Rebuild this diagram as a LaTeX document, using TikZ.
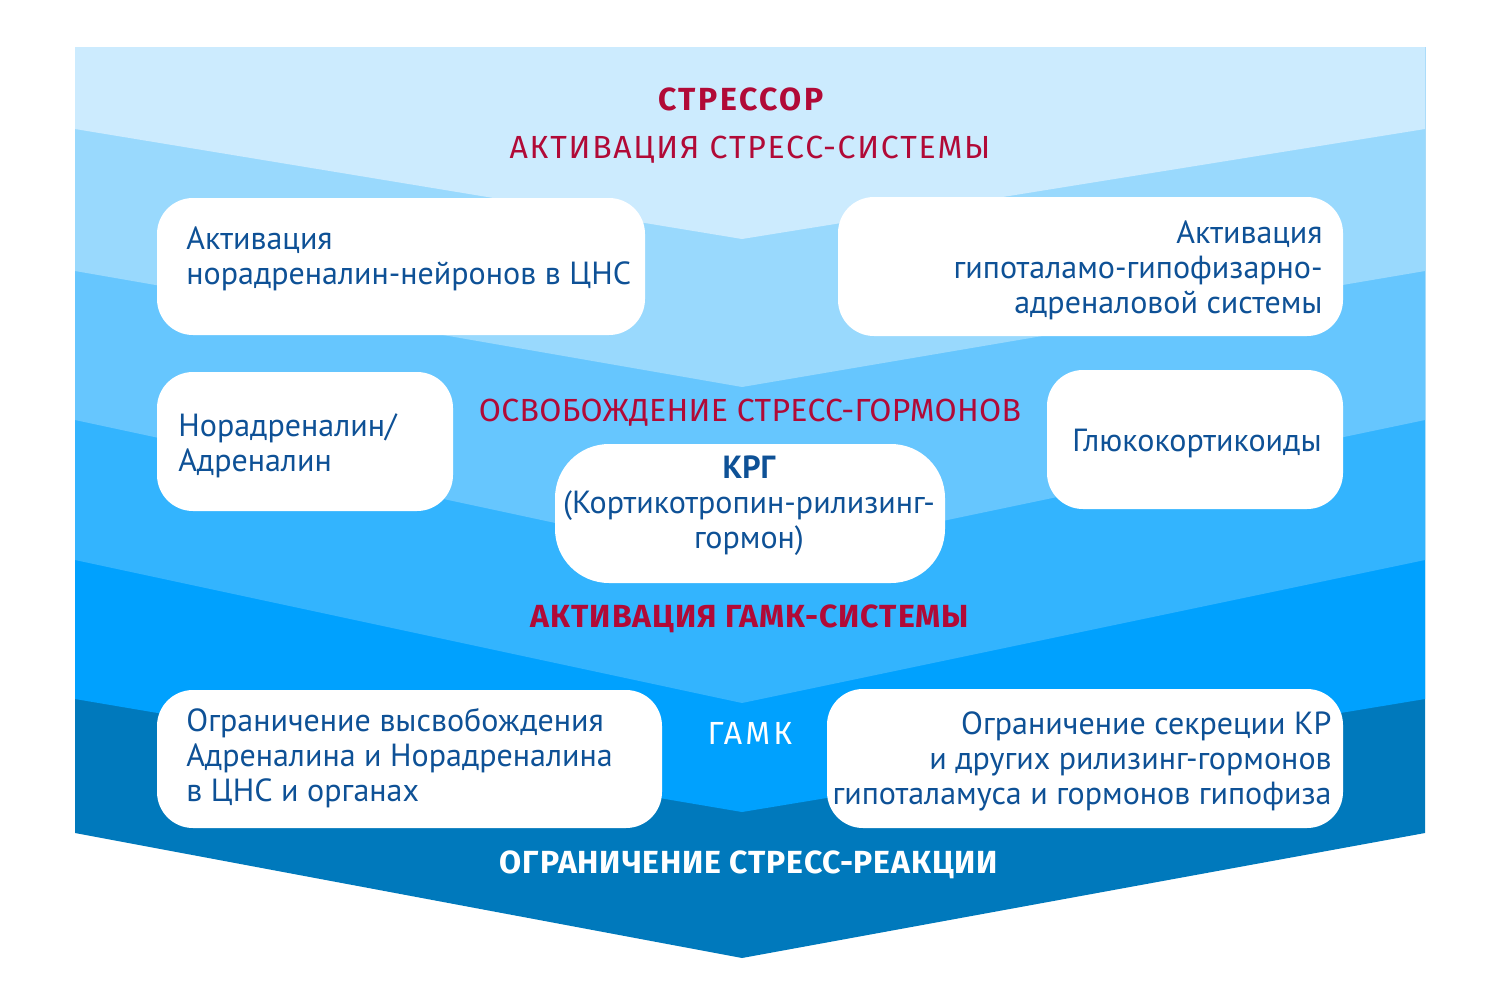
\documentclass[tikz,border=0pt]{standalone}
\usepackage{fontspec}
\setmainfont{Fira Sans}
\newfontfamily\boxfont{PT Sans}
\usetikzlibrary{fit}
\definecolor{lvlA}{HTML}{CCEBFE}
\definecolor{lvlB}{HTML}{99D9FD}
\definecolor{lvlC}{HTML}{66C6FE}
\definecolor{lvlD}{HTML}{33B4FE}
\definecolor{lvlE}{HTML}{00A1FE}
\definecolor{lvlF}{HTML}{0079BC}
\definecolor{txtblue}{HTML}{0E5196}
\definecolor{txtred}{HTML}{B10A37}
\newcommand\spc[1]{\fontsize{16}{18}\selectfont\addfontfeature{LetterSpace=#1}}
\tikzstyle{box}=[fill=white,rounded corners=18pt,inner sep=0pt]
\tikzstyle{txt}=[text=txtblue,font=\boxfont\fontsize{16}{17.5}\selectfont,inner sep=0pt]
\tikzstyle{head}=[text=txtred,inner sep=0pt,anchor=base]

\begin{document}
\begin{tikzpicture}[x=0.5pt,y=-0.5pt]
  \useasboundingbox (0,0) rectangle (1500,991);
  % chevrons, darkest first
  \foreach \c/\ys/\yv in {lvlF/833/958, lvlE/699/812, lvlD/560/703,
                          lvlC/420/563, lvlB/271/387, lvlA/129/239}
    \fill[\c] (75,47) -- (1425,47) -- (1425,\ys) -- (742,\yv) -- (75,\ys) -- cycle;

  \foreach \n/\xa/\ya/\xb/\yb in {norn/157/198/645/335, hpa/838/197/1343/336,
      nadr/157/372/453/511, gluc/1047/370/1343/509,
      lgaba/157/690/662/828, rgaba/827/689/1343/828}
    \node[box,fit={(\xa,\ya) (\xb,\yb)}] (\n) {};
  \node[box,rounded corners=27pt,fit={(555,444) (945,583)}] (crh) {};

  \node[head,font=\bfseries\spc{7.8}] (stressor) at (741,110) {СТРЕССОР};
  \node[head,font=\spc{5.5}] (act) at (750,158) {АКТИВАЦИЯ СТРЕСС-СИСТЕМЫ};
  \node[head,font=\spc{1}] (release) at (750,421) {ОСВОБОЖДЕНИЕ СТРЕСС-ГОРМОНОВ};
  \node[head,font=\bfseries\spc{3}] (gabaact) at (750,627) {АКТИВАЦИЯ ГАМК-СИСТЕМЫ};
  \node[head,text=white,font=\spc{10}] (gaba) at (750,744) {ГАМК};
  \node[head,text=white,font=\bfseries\spc{2.6}] (limit) at (749,873) {ОГРАНИЧЕНИЕ СТРЕСС-РЕАКЦИИ};

  \node[txt,anchor=west,align=left] (nornT) at (186,259) {Активация\\норадреналин-нейронов в ЦНС};
  \node[txt,anchor=east,align=right] (hpaT) at (1323,270) {Активация\\гипоталамо-гипофизарно-\\адреналовой системы};
  \node[txt,anchor=west,align=left] (nadrT) at (178,446) {Норадреналин/\\Адреналин};
  \node[txt,anchor=east] (glucT) at (1322,443) {Глюкокортикоиды};
  \node[txt,align=center] (crhT) at (749,506) {{\bfseries КРГ}\\(Кортикотропин-рилизинг-\\гормон)};
  \node[txt,anchor=west,align=left] (lgabaT) at (186,758) {Ограничение высвобождения\\Адреналина и Норадреналина\\в ЦНС и органах};
  \node[txt,anchor=east,align=right] (rgabaT) at (1332,761) {Ограничение секреции КР\\и других рилизинг-гормонов\\гипоталамуса и гормонов гипофиза};
\end{tikzpicture}
\end{document}
